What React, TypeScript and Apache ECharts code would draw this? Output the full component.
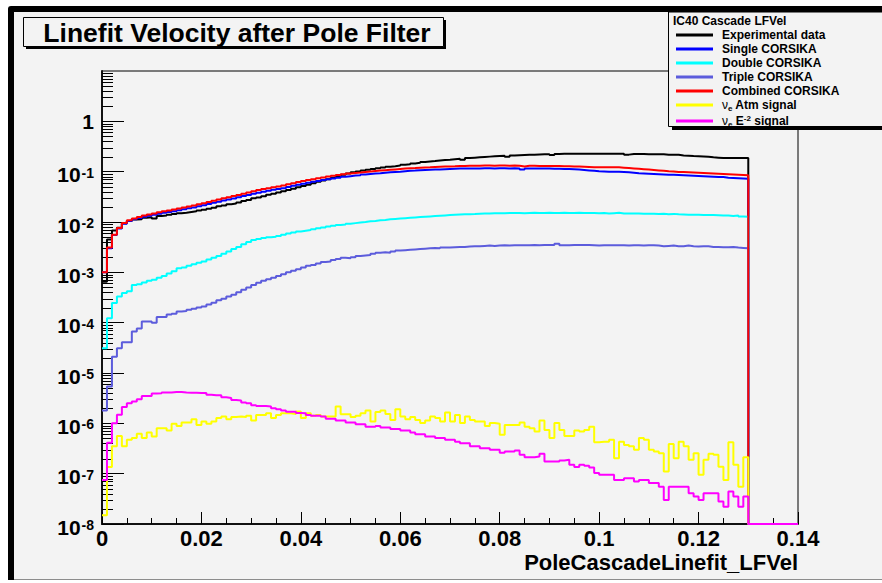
import React, { useEffect, useRef } from "react";
import * as echarts from "echarts";

// ---------------- data ----------------
const BIN_WIDTH = 0.001; // histogram bin width
const HIST_BINS = 140; // histogram range 0 .. 0.14 (bins after 0.13 are empty)

const X_TICK_LABELS = ["0", "0.02", "0.04", "0.06", "0.08", "0.1", "0.12", "0.14"];
const Y_DECADES = [1e-8, 1e-7, 1e-6, 1e-5, 1e-4, 1e-3, 1e-2, 1e-1, 1];

const SERIES_NAMES = [
  "Experimental data",
  "Single CORSIKA",
  "Double CORSIKA",
  "Triple CORSIKA",
  "Combined CORSIKA",
  "νe Atm signal",
  "νe E-2 signal",
];
const SERIES_COLORS = ["#000000", "#0000ff", "#00ffff", "#5c5cdc", "#ff0000", "#ffff00", "#ff00ff"];

const experimental = [
  6.5e-4, 4.5e-3, 6.8e-3, 7.7e-3, 9.4e-3, 1.05e-2, 1.12e-2, 1.13e-2, 1.22e-2, 1.24e-2,
  1.18e-2, 1.32e-2, 1.34e-2, 1.4e-2, 1.45e-2, 1.5e-2, 1.53e-2, 1.58e-2, 1.63e-2, 1.7e-2,
  1.76e-2, 1.83e-2, 1.92e-2, 2.05e-2, 2.12e-2, 2.26e-2, 2.32e-2, 2.43e-2, 2.62e-2, 2.75e-2,
  2.95e-2, 3.05e-2, 3.23e-2, 3.46e-2, 3.65e-2, 3.87e-2, 4.08e-2, 4.32e-2, 4.6e-2, 4.9e-2,
  5.2e-2, 5.5e-2, 5.9e-2, 6.3e-2, 6.7e-2, 7.1e-2, 7.6e-2, 8.1e-2, 8.7e-2, 9.2e-2,
  9.7e-2, 0.101, 0.105, 0.109, 0.113, 0.117, 0.121, 0.125, 0.128, 0.132,
  0.137, 0.141, 0.146, 0.15, 0.155, 0.16, 0.163, 0.167, 0.17, 0.173,
  0.177, 0.18, 0.172, 0.187, 0.19, 0.193, 0.196, 0.199, 0.202, 0.205,
  0.208, 0.198, 0.209, 0.212, 0.214, 0.216, 0.218, 0.22, 0.222, 0.223,
  0.215, 0.225, 0.226, 0.227, 0.227, 0.228, 0.228, 0.228, 0.227, 0.228,
  0.228, 0.227, 0.228, 0.227, 0.227, 0.218, 0.225, 0.225, 0.224, 0.223,
  0.223, 0.222, 0.222, 0.218, 0.218, 0.216, 0.21, 0.208, 0.205, 0.203,
  0.2, 0.197, 0.193, 0.19, 0.187, 0.187, 0.187, 0.187, 0.187, 0.187,
];

const singleCorsika = [
  1.0e-3, 3.0e-3, 5.5e-3, 7.4e-3, 9.2e-3, 1.05e-2, 1.13e-2, 1.2e-2, 1.27e-2, 1.33e-2,
  1.39e-2, 1.46e-2, 1.52e-2, 1.58e-2, 1.64e-2, 1.71e-2, 1.79e-2, 1.87e-2, 1.95e-2, 2.05e-2,
  2.15e-2, 2.27e-2, 2.4e-2, 2.53e-2, 2.66e-2, 2.8e-2, 2.94e-2, 3.1e-2, 3.27e-2, 3.44e-2,
  3.65e-2, 3.83e-2, 4.0e-2, 4.18e-2, 4.35e-2, 4.53e-2, 4.7e-2, 4.97e-2, 5.23e-2, 5.5e-2,
  5.77e-2, 6.03e-2, 6.3e-2, 6.56e-2, 6.8e-2, 7.1e-2, 7.35e-2, 7.6e-2, 7.9e-2, 8.15e-2,
  8.35e-2, 8.5e-2, 8.8e-2, 9.0e-2, 9.15e-2, 9.3e-2, 9.5e-2, 9.7e-2, 9.85e-2, 0.1,
  0.102, 0.104, 0.105, 0.107, 0.108, 0.109, 0.11, 0.111, 0.112, 0.113,
  0.114, 0.115, 0.115, 0.116, 0.116, 0.116, 0.117, 0.117, 0.116, 0.117,
  0.117, 0.116, 0.117, 0.116, 0.111, 0.116, 0.116, 0.115, 0.115, 0.115,
  0.114, 0.114, 0.113, 0.113, 0.112, 0.11, 0.108, 0.106, 0.104, 0.102,
  0.101, 0.1, 0.1, 0.1, 0.099, 0.097, 0.095, 0.093, 0.092, 0.091,
  0.09, 0.089, 0.088, 0.087, 0.087, 0.086, 0.085, 0.084, 0.083, 0.082,
  0.081, 0.08, 0.079, 0.078, 0.078, 0.076, 0.075, 0.074, 0.073, 0.072,
];

const doubleCorsika = [
  3.1e-5, 1.23e-4, 2.45e-4, 3.3e-4, 3.9e-4, 4.2e-4, 5.6e-4, 5.8e-4, 6.3e-4, 6.8e-4,
  7.1e-4, 7.8e-4, 8.5e-4, 9.5e-4, 1.05e-3, 1.2e-3, 1.25e-3, 1.35e-3, 1.45e-3, 1.55e-3,
  1.65e-3, 1.8e-3, 1.95e-3, 2.1e-3, 2.35e-3, 2.6e-3, 2.9e-3, 3.2e-3, 3.6e-3, 4.0e-3,
  4.4e-3, 4.6e-3, 4.8e-3, 5.0e-3, 5.1e-3, 5.3e-3, 5.6e-3, 5.9e-3, 6.2e-3, 6.5e-3,
  6.7e-3, 6.9e-3, 7.2e-3, 7.5e-3, 7.8e-3, 8.1e-3, 8.4e-3, 8.7e-3, 8.9e-3, 9.2e-3,
  9.5e-3, 9.8e-3, 1.0e-2, 1.03e-2, 1.05e-2, 1.08e-2, 1.1e-2, 1.13e-2, 1.15e-2, 1.17e-2,
  1.19e-2, 1.21e-2, 1.23e-2, 1.25e-2, 1.27e-2, 1.29e-2, 1.31e-2, 1.33e-2, 1.35e-2, 1.37e-2,
  1.39e-2, 1.41e-2, 1.42e-2, 1.43e-2, 1.44e-2, 1.46e-2, 1.47e-2, 1.48e-2, 1.49e-2, 1.5e-2,
  1.5e-2, 1.51e-2, 1.51e-2, 1.51e-2, 1.5e-2, 1.51e-2, 1.52e-2, 1.51e-2, 1.51e-2, 1.52e-2,
  1.51e-2, 1.51e-2, 1.52e-2, 1.51e-2, 1.51e-2, 1.52e-2, 1.51e-2, 1.51e-2, 1.51e-2, 1.5e-2,
  1.51e-2, 1.47e-2, 1.5e-2, 1.52e-2, 1.48e-2, 1.48e-2, 1.47e-2, 1.47e-2, 1.46e-2, 1.46e-2,
  1.46e-2, 1.44e-2, 1.46e-2, 1.43e-2, 1.45e-2, 1.42e-2, 1.41e-2, 1.4e-2, 1.4e-2, 1.39e-2,
  1.38e-2, 1.37e-2, 1.37e-2, 1.36e-2, 1.35e-2, 1.34e-2, 1.31e-2, 1.34e-2, 1.28e-2, 1.27e-2,
];

const tripleCorsika = [
  1.8e-6, 5.4e-6, 2.1e-5, 3.1e-5, 4.1e-5, 4.1e-5, 6.7e-5, 7.7e-5, 1.05e-4, 1.05e-4,
  1.0e-4, 1.3e-4, 1.3e-4, 1.45e-4, 1.5e-4, 1.66e-4, 1.7e-4, 1.8e-4, 1.9e-4, 2.0e-4,
  2.1e-4, 2.3e-4, 2.5e-4, 2.8e-4, 3.0e-4, 3.3e-4, 3.6e-4, 4.0e-4, 4.5e-4, 5.0e-4,
  5.6e-4, 6.2e-4, 6.8e-4, 7.3e-4, 7.8e-4, 8.5e-4, 9.2e-4, 1.0e-3, 1.08e-3, 1.15e-3,
  1.25e-3, 1.35e-3, 1.4e-3, 1.5e-3, 1.6e-3, 1.65e-3, 1.75e-3, 1.85e-3, 1.95e-3, 1.9e-3,
  2.0e-3, 2.1e-3, 2.15e-3, 2.2e-3, 2.35e-3, 2.45e-3, 2.5e-3, 2.45e-3, 2.6e-3, 2.7e-3,
  2.75e-3, 2.8e-3, 2.85e-3, 2.9e-3, 2.95e-3, 3.0e-3, 3.05e-3, 3.0e-3, 3.1e-3, 3.1e-3,
  3.15e-3, 3.2e-3, 3.2e-3, 3.25e-3, 3.3e-3, 3.3e-3, 3.35e-3, 3.4e-3, 3.35e-3, 3.4e-3,
  3.45e-3, 3.4e-3, 3.45e-3, 3.45e-3, 3.45e-3, 3.45e-3, 3.5e-3, 3.45e-3, 3.5e-3, 3.5e-3,
  3.5e-3, 3.7e-3, 3.45e-3, 3.45e-3, 3.5e-3, 3.5e-3, 3.5e-3, 3.5e-3, 3.45e-3, 3.4e-3,
  3.45e-3, 3.45e-3, 3.45e-3, 3.45e-3, 3.45e-3, 3.4e-3, 3.45e-3, 3.45e-3, 3.4e-3, 3.45e-3,
  3.45e-3, 3.4e-3, 3.3e-3, 3.35e-3, 3.4e-3, 3.3e-3, 3.3e-3, 3.4e-3, 3.3e-3, 3.25e-3,
  3.3e-3, 3.3e-3, 3.2e-3, 3.2e-3, 3.15e-3, 3.15e-3, 3.2e-3, 3.1e-3, 3.05e-3, 3.0e-3,
];

const combinedCorsika = [
  1.0e-3, 3.1e-3, 5.6e-3, 7.6e-3, 9.5e-3, 1.08e-2, 1.18e-2, 1.26e-2, 1.34e-2, 1.41e-2,
  1.48e-2, 1.56e-2, 1.63e-2, 1.7e-2, 1.77e-2, 1.85e-2, 1.94e-2, 2.03e-2, 2.13e-2, 2.25e-2,
  2.37e-2, 2.5e-2, 2.65e-2, 2.8e-2, 2.96e-2, 3.1e-2, 3.27e-2, 3.45e-2, 3.65e-2, 3.85e-2,
  4.1e-2, 4.3e-2, 4.5e-2, 4.7e-2, 4.9e-2, 5.1e-2, 5.3e-2, 5.6e-2, 5.9e-2, 6.2e-2,
  6.5e-2, 6.8e-2, 7.1e-2, 7.4e-2, 7.7e-2, 8.0e-2, 8.3e-2, 8.6e-2, 8.9e-2, 9.2e-2,
  9.4e-2, 9.6e-2, 9.9e-2, 0.101, 0.103, 0.105, 0.107, 0.109, 0.111, 0.113,
  0.115, 0.117, 0.118, 0.12, 0.121, 0.122, 0.124, 0.125, 0.126, 0.127,
  0.128, 0.13, 0.13, 0.131, 0.131, 0.131, 0.132, 0.132, 0.131, 0.132,
  0.132, 0.131, 0.132, 0.131, 0.127, 0.131, 0.131, 0.13, 0.13, 0.13,
  0.129, 0.129, 0.128, 0.128, 0.127, 0.126, 0.125, 0.124, 0.123, 0.123,
  0.122, 0.122, 0.122, 0.122, 0.12, 0.118, 0.116, 0.114, 0.112, 0.11,
  0.108, 0.106, 0.104, 0.102, 0.101, 0.099, 0.098, 0.097, 0.096, 0.095,
  0.094, 0.093, 0.092, 0.091, 0.09, 0.089, 0.088, 0.087, 0.086, 0.085,
];

const nueAtmSignal = [
  1.5e-8, 1.35e-7, 3.5e-7, 5.6e-7, 3.5e-7, 4.7e-7, 5.1e-7, 6.2e-7, 5.1e-7, 6.6e-7,
  5.5e-7, 8.0e-7, 8.0e-7, 7.2e-7, 9.8e-7, 8.9e-7, 1.04e-6, 1.04e-6, 1.21e-6, 9.3e-7,
  1.09e-6, 9.8e-7, 1.09e-6, 1.27e-6, 1.36e-6, 1.21e-6, 1.33e-6, 1.36e-6, 1.33e-6, 1.41e-6,
  1.14e-6, 1.47e-6, 1.47e-6, 1.59e-6, 1.27e-6, 1.47e-6, 1.59e-6, 1.59e-6, 1.54e-6, 1.72e-6,
  1.27e-6, 1.59e-6, 1.41e-6, 1.47e-6, 1.36e-6, 1.36e-6, 1.36e-6, 2.16e-6, 1.52e-6, 1.52e-6,
  1.33e-6, 1.41e-6, 1.59e-6, 1.8e-6, 1.09e-6, 1.67e-6, 1.8e-6, 1.54e-6, 1.17e-6, 1.91e-6,
  1.36e-6, 1.21e-6, 1.33e-6, 1.17e-6, 1.01e-6, 1.14e-6, 1.36e-6, 1.27e-6, 1.09e-6, 1.64e-6,
  1.09e-6, 1.47e-6, 1.01e-6, 1.36e-6, 1.17e-6, 1.09e-6, 1.09e-6, 8.9e-7, 1.01e-6, 9.8e-7,
  5.9e-7, 9.3e-7, 9.3e-7, 9.3e-7, 1.04e-6, 8.6e-7, 8.0e-7, 6.9e-7, 1.14e-6, 7.4e-7,
  5.1e-7, 1.01e-6, 7.4e-7, 5.6e-7, 5.6e-7, 7.2e-7, 6.9e-7, 7.4e-7, 8.6e-7, 4.2e-7,
  4.3e-7, 4.3e-7, 4.7e-7, 2.03e-7, 4.3e-7, 3.7e-7, 3.5e-7, 3.0e-7, 5.1e-7, 4.7e-7,
  3.0e-7, 2.75e-7, 2.55e-7, 1.1e-7, 3.9e-7, 2.03e-7, 4.3e-7, 3.5e-7, 1.88e-7, 2.55e-7,
  9.5e-8, 1.88e-7, 2.48e-7, 2.37e-7, 1.38e-7, 7.5e-8, 4.2e-7, 1.5e-7, 5.5e-8, 2.13e-7,
];

const nueE2Signal = [
  7.5e-8, 4.1e-7, 1.0e-6, 1.48e-6, 2.1e-6, 2.5e-6, 2.7e-6, 3.0e-6, 3.5e-6, 3.5e-6,
  3.9e-6, 3.95e-6, 4.1e-6, 4.1e-6, 4.2e-6, 4.2e-6, 4.1e-6, 4.05e-6, 4.05e-6, 4.0e-6,
  4.0e-6, 3.7e-6, 3.6e-6, 3.6e-6, 3.3e-6, 3.2e-6, 2.9e-6, 2.85e-6, 2.6e-6, 2.5e-6,
  2.3e-6, 2.2e-6, 2.2e-6, 2.15e-6, 2.0e-6, 1.9e-6, 1.8e-6, 1.7e-6, 1.7e-6, 1.6e-6,
  1.59e-6, 1.47e-6, 1.41e-6, 1.41e-6, 1.36e-6, 1.23e-6, 1.23e-6, 1.14e-6, 1.14e-6, 1.04e-6,
  1.04e-6, 9.6e-7, 9.6e-7, 8.6e-7, 8.6e-7, 8.9e-7, 8.3e-7, 8.3e-7, 7.7e-7, 7.7e-7,
  7.2e-7, 7.2e-7, 6.6e-7, 6.1e-7, 6.1e-7, 5.5e-7, 5.5e-7, 5.1e-7, 5.1e-7, 4.7e-7,
  4.7e-7, 4.3e-7, 4.0e-7, 4.0e-7, 3.5e-7, 3.5e-7, 3.2e-7, 3.2e-7, 3.0e-7, 3.0e-7,
  2.6e-7, 2.75e-7, 2.75e-7, 2.9e-7, 2.37e-7, 2.13e-7, 2.13e-7, 2.2e-7, 2.48e-7, 1.75e-7,
  1.75e-7, 1.75e-7, 1.83e-7, 1.88e-7, 1.5e-7, 1.35e-7, 1.5e-7, 1.43e-7, 1.32e-7, 1.03e-7,
  9.5e-8, 9.5e-8, 9.5e-8, 7.5e-8, 7.5e-8, 8.1e-8, 8.1e-8, 7.0e-8, 7.5e-8, 7.5e-8,
  6.5e-8, 6.5e-8, 5.5e-8, 3.0e-8, 5.5e-8, 5.5e-8, 5.5e-8, 5.5e-8, 4.1e-8, 3.5e-8,
  3.0e-8, 4.1e-8, 4.1e-8, 4.1e-8, 2.8e-8, 2.2e-8, 4.4e-8, 3.5e-8, 2.2e-8, 3.5e-8,
];

const SERIES_VALUES = [
  experimental,
  singleCorsika,
  doubleCorsika,
  tripleCorsika,
  combinedCorsika,
  nueAtmSignal,
  nueE2Signal,
];

// ---------------- chart ----------------
const FONT = '"Liberation Sans", Arial, Helvetica, sans-serif';
const Y_MIN = 1e-8;
const Y_MAX = 10;

// minor ticks of the log axis: 2..9 x 10^n
function minorLogTicks(): number[] {
  const out: number[] = [];
  for (const d of Y_DECADES) {
    for (let k = 2; k <= 9; k++) out.push(+(k * d).toPrecision(3));
  }
  return out;
}

function histPath(values: number[]): number[][] {
  const pts: number[][] = [];
  for (let i = 0; i < HIST_BINS; i++) {
    const raw = i < values.length ? values[i] : 0;
    const v = raw > 0 ? raw : Y_MIN; // empty bins sit on the axis floor
    const lo = +(i * BIN_WIDTH).toFixed(4);
    const hi = +((i + 1) * BIN_WIDTH).toFixed(4);
    pts.push([lo, v], [hi, v]);
  }
  return pts;
}

function legendLabel(name: string): string {
  if (name === "νe Atm signal") return "{nu|ν}{sub|e}{t| Atm signal}";
  if (name === "νe E-2 signal") return "{nu|ν}{sub|e}{t| E}{sup|-2}{t| signal}";
  return "{t|" + name + "}";
}

export default function App() {
  const ref = useRef<HTMLDivElement>(null);

  useEffect(() => {
    if (!ref.current) return;
    const chart = echarts.init(ref.current, undefined, { renderer: "svg" });

    const histSeries = SERIES_NAMES.map((name, i) => ({
      name,
      type: "line",
      data: histPath(SERIES_VALUES[i]),
      xAxisIndex: 0,
      yAxisIndex: 0,
      symbol: "none",
      showSymbol: false,
      clip: true,
      silent: true,
      lineStyle: { color: SERIES_COLORS[i], width: 2 },
      itemStyle: { color: SERIES_COLORS[i] },
    }));

    // logarithmic minor tick marks on the y axis, placed through the axis scale
    const minorTickSeries = {
      name: "minor-ticks",
      type: "custom",
      xAxisIndex: 0,
      yAxisIndex: 0,
      silent: true,
      clip: false,
      z: 3,
      data: minorLogTicks().map((v) => [0, v]),
      encode: { x: 0, y: 1 },
      renderItem: (_params: any, api: any) => {
        const p = api.coord([0, api.value(1)]);
        const y = Math.round(p[1]) + 0.5;
        return {
          type: "line",
          shape: { x1: p[0], y1: y, x2: p[0] + 11, y2: y },
          style: { stroke: "#000", lineWidth: 1 },
        };
      },
    };

    const option: any = {
      animation: false,
      backgroundColor: "#f3f3f3",
      grid: {
        left: 102,
        right: 84,
        top: 71,
        bottom: 59,
        show: true,
        borderColor: "#000",
        borderWidth: 1,
        backgroundColor: "transparent",
        containLabel: false,
      },
      xAxis: {
        type: "value",
        min: 0,
        max: 0.14,
        interval: 0.02,
        axisLine: { show: true, onZero: false, lineStyle: { color: "#111", width: 2 } },
        axisTick: { show: true, inside: true, length: 12, lineStyle: { color: "#000", width: 1 } },
        minorTick: { show: true, splitNumber: 4, length: 6, lineStyle: { color: "#000", width: 1 } },
        splitLine: { show: false },
        minorSplitLine: { show: false },
        axisLabel: {
          formatter: (v: number) => X_TICK_LABELS[Math.round(v / 0.02)] ?? String(v),
          fontSize: 22,
          fontWeight: "bold",
          fontFamily: FONT,
          color: "#000",
          margin: 3,
          showMinLabel: true,
          showMaxLabel: true,
        },
        name: "PoleCascadeLinefit_LFVel",
        nameLocation: "end",
        nameGap: 0,
        nameTextStyle: {
          fontSize: 22,
          fontWeight: "bold",
          fontFamily: FONT,
          color: "#000",
          align: "right",
          verticalAlign: "top",
          padding: [27, 0, 0, 0],
        },
      },
      yAxis: {
        type: "log",
        logBase: 10,
        min: Y_MIN,
        max: Y_MAX,
        splitNumber: 9,
        position: "left",
        axisLine: { show: true, lineStyle: { color: "#111", width: 2 } },
        axisTick: {
          show: true,
          inside: true,
          length: 22,
          lineStyle: { color: "#000", width: 1 },
        },
        axisLabel: {
          margin: 8,
          showMaxLabel: false,
          formatter: (v: number) => {
            const e = Math.round(Math.log10(v));
            if (e > 0) return "";
            return e === 0 ? "{one|1}" : "{ten|10}{sup|" + e + "}";
          },
          rich: {
            one: { fontSize: 21, fontWeight: "bold", fontFamily: FONT, color: "#000", lineHeight: 24 },
            ten: {
              fontSize: 21,
              fontWeight: "bold",
              fontFamily: FONT,
              color: "#000",
              lineHeight: 24,
              padding: [6, 0, 0, 0],
            },
            sup: {
              fontSize: 14,
              fontWeight: "bold",
              fontFamily: FONT,
              color: "#000",
              lineHeight: 14,
              verticalAlign: "top",
              padding: [6, 0, 0, 1],
            },
          },
        },
        splitLine: { show: false },
        minorTick: { show: false },
      },
      legend: {
        data: SERIES_NAMES,
        orient: "vertical",
        left: 676,
        top: 29,
        itemWidth: 37,
        itemHeight: 3,
        itemGap: 2,
        icon: "rect",
        selectedMode: false,
        padding: 0,
        z: 12,
        formatter: legendLabel,
        textStyle: {
          padding: [0, 0, 0, 4],
          rich: {
            t: { fontSize: 12, fontWeight: "bold", fontFamily: FONT, color: "#000", lineHeight: 14 },
            nu: { fontSize: 12, fontWeight: "normal", fontFamily: FONT, color: "#000", lineHeight: 14 },
            sub: {
              fontSize: 8,
              fontWeight: "bold",
              fontFamily: FONT,
              color: "#000",
              lineHeight: 8,
              verticalAlign: "bottom",
            },
            sup: {
              fontSize: 8,
              fontWeight: "bold",
              fontFamily: FONT,
              color: "#000",
              lineHeight: 8,
              verticalAlign: "top",
            },
          },
        },
      },
      series: [...histSeries, minorTickSeries],
      graphic: [
        // white page margins around the ROOT canvas
        { type: "rect", z: 20, silent: true, shape: { x: 0, y: 0, width: 882, height: 6 }, style: { fill: "#ffffff" } },
        { type: "rect", z: 20, silent: true, shape: { x: 0, y: 0, width: 8, height: 583 }, style: { fill: "#ffffff" } },
        { type: "rect", z: 20, silent: true, shape: { x: 0, y: 580, width: 882, height: 3 }, style: { fill: "#ffffff" } },
        { type: "line", z: 20, silent: true, shape: { x1: 8, y1: 579.5, x2: 882, y2: 579.5 }, style: { stroke: "#8c8c8c", lineWidth: 1 } },
        {
          type: "polyline",
          z: 21,
          silent: true,
          shape: { points: [[11, 580], [11, 9], [882, 9]] },
          style: { stroke: "#000", lineWidth: 6, fill: null, lineJoin: "round" },
        },
        // title pave
        { type: "rect", z: 20, silent: true, shape: { x: 26, y: 20, width: 420, height: 29 }, style: { fill: "#000" } },
        {
          type: "rect",
          z: 21,
          silent: true,
          shape: { x: 23.5, y: 17.5, width: 420, height: 29 },
          style: { fill: "#f3f3f3", stroke: "#000", lineWidth: 1 },
        },
        {
          type: "text",
          z: 22,
          silent: true,
          x: 237,
          y: 33,
          style: {
            text: "Linefit Velocity after Pole Filter",
            fill: "#000",
            font: 'bold 26.5px "Liberation Sans", Arial, Helvetica, sans-serif',
            textAlign: "center",
            textVerticalAlign: "middle",
          },
        },
        // legend box
        { type: "rect", z: 10, silent: true, shape: { x: 672, y: 16, width: 220, height: 114 }, style: { fill: "#000" } },
        {
          type: "rect",
          z: 11,
          silent: true,
          shape: { x: 668.5, y: 12, width: 220, height: 114.5 },
          style: { fill: "#f3f3f3", stroke: "#000", lineWidth: 1 },
        },
        {
          type: "text",
          z: 12,
          silent: true,
          x: 673,
          y: 21,
          style: {
            text: "IC40 Cascade LFVel",
            fill: "#000",
            font: 'bold 12px "Liberation Sans", Arial, Helvetica, sans-serif',
            textAlign: "left",
            textVerticalAlign: "middle",
          },
        },
      ],
    };

    chart.setOption(option);
    return () => chart.dispose();
  }, []);

  return (
    <div
      ref={ref}
      style={{ position: "fixed", left: 0, top: 0, width: 882, height: 583, background: "#ffffff" }}
    />
  );
}
